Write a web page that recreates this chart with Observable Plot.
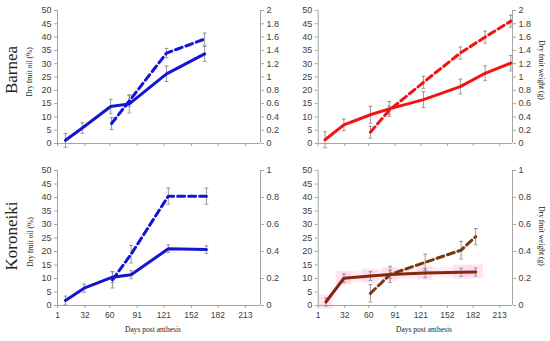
<!DOCTYPE html>
<html>
<head>
<meta charset="utf-8">
<script src="https://cdn.jsdelivr.net/npm/d3@7"></script>
<script src="https://cdn.jsdelivr.net/npm/@observablehq/plot@0.6"></script>
<style>
  html, body { margin: 0; padding: 0; background: #fff; }
  #wrap { position: relative; width: 550px; height: 341px; overflow: hidden; background: #fff; }
  .panel { position: absolute; }
  .lbl { position: absolute; font-family: "Liberation Serif", "Times New Roman", serif; color: #222; white-space: nowrap; }
</style>
</head>
<body>
<div id="wrap"></div>
<script>
// ---- Data ----
const xTickDays = [1, 32, 60, 91, 121, 152, 182, 213];
const leftTicks = [0, 5, 10, 15, 20, 25, 30, 35, 40, 45, 50];
const rightTicksTop = [0, 0.2, 0.4, 0.6, 0.8, 1, 1.2, 1.4, 1.6, 1.8, 2];
const rightTicksBottom = [0, 0.2, 0.4, 0.6, 0.8, 1];

// Barnea, dry fruit oil (%) – left panel (solid)
const barneaOilDays = [10, 29, 61, 82, 124, 167];
const barneaOil     = [1.2, 5.8, 13.9, 14.9, 26.2, 33.7];
const barneaOilErr  = [2.6, 2.0, 2.7, 3.4, 2.9, 2.8];
// Barnea, dry fruit weight (g) – left panel (dashed)
const barneaWtDays  = [62, 82, 124, 167];
const barneaWt      = [0.30, 0.64, 1.36, 1.57];
const barneaWtErr   = [0.09, 0.08, 0.07, 0.09];

// Barnea – right panel
const barneaOilDays2 = [9, 31, 62, 84, 124, 167, 196, 226];
const barneaOil2     = [1.4, 7.0, 10.8, 13.0, 16.5, 21.4, 26.4, 30.2];
const barneaOilErr2  = [3.0, 2.2, 3.2, 2.8, 3.0, 2.8, 2.8, 2.9];
const barneaWtDays2  = [62, 84, 124, 167, 196, 226];
const barneaWt2      = [0.17, 0.50, 0.92, 1.36, 1.60, 1.84];
const barneaWtErr2   = [0.09, 0.06, 0.09, 0.09, 0.09, 0.09];

// Koroneiki – left panel
const koroOilDays = [10, 31, 63, 84, 126, 169];
const koroOil     = [1.85, 6.4, 10.5, 11.4, 21.0, 20.7];
const koroOilErr  = [1.6, 1.5, 2.0, 1.5, 1.4, 1.4];
const koroWtDays  = [63, 84, 126, 169];
const koroWt      = [0.19, 0.38, 0.81, 0.81];
const koroWtErr   = [0.06, 0.065, 0.06, 0.06];

// Koroneiki – right panel
const koroOilDays2 = [10, 31, 62, 85, 126, 168, 185];
const koroOil2     = [1.3, 10.1, 10.9, 11.5, 12.0, 12.3, 12.4];
const koroOilErr2  = [1.5, 1.6, 1.6, 1.5, 1.7, 1.5, 1.5];
const koroWtDays2  = [62, 85, 126, 168, 185];
const koroWt2      = [0.09, 0.23, 0.32, 0.41, 0.51];
const koroWtErr2   = [0.064, 0.06, 0.06, 0.065, 0.06];

// ---- helpers ----
const zip = (days, vals, errs, k) => days.map((d, i) => ({day: d, v: vals[i] * k, e: errs[i] * k}));
const fmt = d => String(+d.toFixed(1));
const AXIS = "#a6a6a6";
const TXT = "#404040";
const FONT = "Liberation Sans, Arial, sans-serif";

function errMarks(data, cap) {
  return [
    Plot.ruleX(data, {x: "day", y1: d => d.v - d.e, y2: d => d.v + d.e, stroke: "#8c8c8c", strokeWidth: 0.9}),
    Plot.link(data, {x1: d => d.day - cap, x2: d => d.day + cap, y1: d => d.v + d.e, y2: d => d.v + d.e, stroke: "#8c8c8c", strokeWidth: 0.9}),
    Plot.link(data, {x1: d => d.day - cap, x2: d => d.day + cap, y1: d => d.v - d.e, y2: d => d.v - d.e, stroke: "#8c8c8c", strokeWidth: 0.9})
  ];
}

function panel(o) {
  const k = o.k;
  const solid = zip(o.sDays, o.sVals, o.sErr, 1);
  const dashed = zip(o.dDays, o.dVals, o.dErr, k);
  const marks = [];
  if (o.shade) {
    marks.push(Plot.areaY(solid.filter(d => d.day > 20), {x: "day", y1: d => d.v - 2.0, y2: d => d.v + 2.0, fill: "#ffeaf4", fillOpacity: 0.9}));
    marks.push(Plot.rect(solid, {x1: d => d.day - 9, x2: d => d.day + 9, y1: d => d.v - 2.6, y2: d => d.v + 2.6, fill: "#ffd2e8", fillOpacity: 0.6}));
  }
  marks.push(
    Plot.ruleY([0], {stroke: AXIS, strokeWidth: 1}),
    Plot.ruleX([o.xDomain[0]], {stroke: AXIS, strokeWidth: 1}),
    Plot.ruleX([o.xDomain[1]], {stroke: AXIS, strokeWidth: 1}),
    Plot.axisX({ticks: xTickDays, tickSize: 3, tickPadding: 3, stroke: AXIS, fill: TXT,
      tickFormat: o.xLabels ? (d => String(d)) : (() => ""), label: null, fontSize: 8.5}),
    Plot.axisY({anchor: "left", ticks: leftTicks, tickSize: 3, tickPadding: 3, stroke: AXIS, fill: TXT,
      tickFormat: d => String(d), label: null, fontSize: 9}),
    Plot.axisY({anchor: "right", ticks: o.rTicks.map(t => t * k), tickSize: 3, tickPadding: 3, stroke: AXIS, fill: TXT,
      tickFormat: d => fmt(d / k), label: null, fontSize: 9}),
    ...errMarks(solid, 2.2),
    ...errMarks(dashed, 2.2),
    Plot.line(dashed, {x: "day", y: "v", stroke: o.dColor, strokeWidth: 3, strokeDasharray: "7,4"}),
    Plot.line(solid, {x: "day", y: "v", stroke: o.sColor, strokeWidth: 3})
  );
  const svg = Plot.plot({
    width: o.width, height: o.height,
    marginLeft: o.mL, marginRight: o.mR, marginTop: o.mT, marginBottom: o.mB,
    x: {type: "linear", domain: o.xDomain},
    y: {domain: [0, 50]},
    style: {background: "transparent", fontFamily: FONT, overflow: "visible", color: TXT},
    marks
  });
  svg.classList.add("panel");
  svg.style.left = o.left + "px";
  svg.style.top = o.top + "px";
  document.getElementById("wrap").appendChild(svg);
}

const BLUE = "#1414d2";
const RED = "#f01414";
const BROWN = "#86280c";
const BROWN_D = "#7a3810";

panel({left: 0, top: 0, width: 290, height: 155, mL: 57, mR: 30, mT: 10, mB: 12, xDomain: [1, 230], k: 25,
  rTicks: rightTicksTop, sDays: barneaOilDays, sVals: barneaOil, sErr: barneaOilErr,
  dDays: barneaWtDays, dVals: barneaWt, dErr: barneaWtErr, sColor: BLUE, dColor: BLUE, xLabels: false});
panel({left: 290, top: 0, width: 260, height: 155, mL: 27.7, mR: 38, mT: 10, mB: 12, xDomain: [1, 228], k: 25,
  rTicks: rightTicksTop, sDays: barneaOilDays2, sVals: barneaOil2, sErr: barneaOilErr2,
  dDays: barneaWtDays2, dVals: barneaWt2, dErr: barneaWtErr2, sColor: RED, dColor: RED, xLabels: false});
panel({left: 0, top: 155, width: 290, height: 165, mL: 57, mR: 30, mT: 15, mB: 15, xDomain: [1, 230], k: 50,
  rTicks: rightTicksBottom, sDays: koroOilDays, sVals: koroOil, sErr: koroOilErr,
  dDays: koroWtDays, dVals: koroWt, dErr: koroWtErr, sColor: BLUE, dColor: BLUE, xLabels: true});
panel({left: 290, top: 155, width: 260, height: 165, mL: 27.7, mR: 38, mT: 15, mB: 15, xDomain: [1, 228], k: 50,
  rTicks: rightTicksBottom, sDays: koroOilDays2, sVals: koroOil2, sErr: koroOilErr2,
  dDays: koroWtDays2, dVals: koroWt2, dErr: koroWtErr2, sColor: BROWN, dColor: BROWN_D, xLabels: true, shade: true});

// ---- Text labels ----
function label(text, cx, cy, size, rot) {
  const el = document.createElement("div");
  el.className = "lbl";
  el.textContent = text;
  el.style.fontSize = size + "px";
  el.style.left = cx + "px";
  el.style.top = cy + "px";
  el.style.transform = `translate(-50%, -50%) rotate(${rot}deg)`;
  document.getElementById("wrap").appendChild(el);
}
label("Barnea", 12, 70, 17, -90);
label("Koroneiki", 12, 236, 17, -90);
label("Dry fruit oil (%)", 29, 72, 7.5, -90);
label("Dry fruit oil (%)", 30, 242, 7.5, -90);
label("Dry fruit weight (g)", 541, 70, 7.5, 90);
label("Dry fruit weight (g)", 541, 236, 7.5, 90);
label("Days post anthesis", 153, 329, 7.5, 0);
label("Days post anthesis", 424, 329, 7.5, 0);
</script>
</body>
</html>
